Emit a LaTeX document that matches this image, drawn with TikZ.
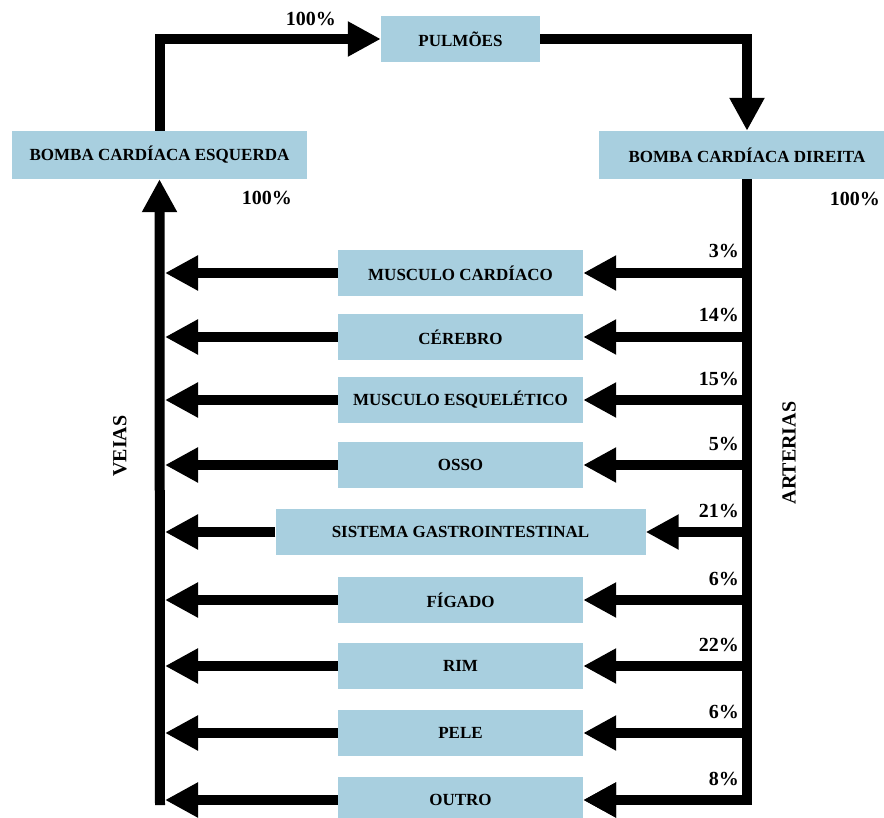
\documentclass[tikz,border=0pt]{standalone}
\usepackage{fontspec}
\setmainfont{Liberation Serif}
\usetikzlibrary{arrows.meta}
\definecolor{azul}{RGB}{168,207,223}

\begin{document}
\begin{tikzpicture}[x=1pt,y=-1pt,
    caixa/.style={fill=azul,minimum height=46pt,inner sep=0pt,
      font=\fontsize{17}{20}\selectfont\bfseries},
    fluxo/.style={line width=10pt,-{Triangle[length=33pt,width=33pt]}},
    pct/.style={anchor=base east,inner sep=0pt,
      font=\fontsize{20}{22}\selectfont\bfseries},
    vaso/.style={rotate=90,inner sep=0pt,
      font=\fontsize{20}{22}\selectfont\bfseries}]
  \useasboundingbox (0,0) rectangle (884,818);

  % coracao e pulmoes
  \node[caixa,minimum width=295pt,minimum height=48pt] (esq) at (159.5,155) {BOMBA CARDÍACA ESQUERDA};
  \node[caixa,minimum width=159pt] (pulm) at (460.5,39) {PULMÕES};
  \node[caixa,minimum width=296pt,minimum height=48pt] (dir) at (747,155) {BOMBA CARDÍACA DIREITA};
  \coordinate (veia) at (165,805);

  \draw[fluxo] (esq.north) |- (pulm.west);
  \draw[fluxo] (pulm.east) -| (dir.north);
  \node[pct] (pc0) at (336,26) {100\%};
  \node[pct] (pc1) at (292,205) {100\%};
  \node[pct] (pc2) at (880,206) {100\%};

  % orgaos
  \foreach \nome/\rotulo/\y/\larg/\p in {
      mcard/MUSCULO CARDÍACO/273/245/3,
      cereb/CÉREBRO/337/245/14,
      mesq/MUSCULO ESQUELÉTICO/400/245/15,
      osso/OSSO/465/245/5,
      gastro/SISTEMA GASTROINTESTINAL/532/370/21,
      figado/FÍGADO/600/245/6,
      rim/RIM/666/245/22,
      pele/PELE/733/245/6,
      outro/OUTRO/800/245/8}{
    \node[caixa,minimum width=\larg pt] (\nome) at (460.5,\y) {\rotulo};
    \node[pct] (p\nome) at (739,{\y-15}) {\p\%};
    \draw[fluxo] (dir.south |- \nome.east) -- (\nome.east);
    \draw[fluxo] (\nome.west) -- (veia |- \nome.west);
  }

  % troncos
  \draw[fluxo] (dir.south) |- (outro.east);
  \draw[fluxo] ([xshift=-5pt]veia) -- (esq.south);
  \node[vaso] (veias) at (120,446) {VEIAS};
  \node[vaso] (arterias) at (789,453) {ARTERIAS};
\end{tikzpicture}
\end{document}
